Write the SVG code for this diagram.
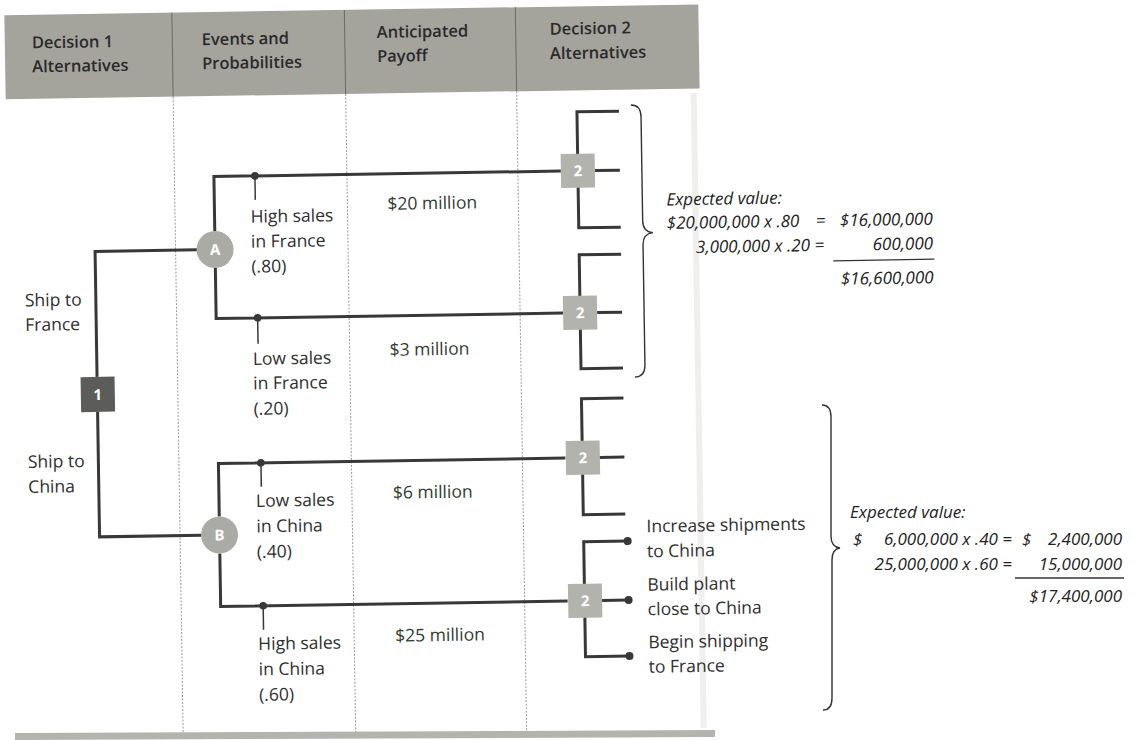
<svg xmlns="http://www.w3.org/2000/svg" width="1134" height="740" viewBox="0 0 1134 740">
  <style>
    .lbl { font-family: "Open Sans", "Noto Sans", sans-serif; font-size: 17.5px; fill: #2e2e2e; }
    .hdr { font-family: "Open Sans", "Noto Sans", sans-serif; font-size: 16.5px; font-weight: 600; fill: #2a2a2a; }
    .val { font-family: "Open Sans", "Noto Sans", sans-serif; font-size: 17.5px; fill: #2f3a2f; }
    .ev { font-family: "Open Sans", "Noto Sans", sans-serif; font-size: 17px; font-style: italic; fill: #222; }
    .nodeTxt { font-family: "Open Sans", "Noto Sans", sans-serif; font-size: 15px; font-weight: 700; fill: #ffffff; text-anchor: middle; }
    .tree { fill: none; stroke: #383838; stroke-width: 3; }
    .tick { fill: none; stroke: #383838; stroke-width: 1.5; }
    .dot { fill: #383838; }
    .div { stroke: #9a9a9a; stroke-width: 1; stroke-dasharray: 2 1.5; }
    .hdiv { stroke: #6a6a66; stroke-width: 1; }
    .brace { fill: none; stroke: #333; stroke-width: 1.4; }
    .rule { stroke: #333; stroke-width: 1.3; }
    .d2 { fill: #b3b3ae; }
  </style>

  <rect x="0" y="0" width="1134" height="740" fill="#ffffff"/>

  <g id="page" transform="rotate(-0.9 567 370)">
    <!-- header band -->
    <g id="header">
      <rect x="10" y="6.5" width="694" height="84" fill="#a4a49c"/>
      <line class="hdiv" x1="177.5" y1="6.5" x2="177.5" y2="90.5"/>
      <line class="hdiv" x1="350" y1="6.5" x2="350" y2="90.5"/>
      <line class="hdiv" x1="521" y1="6.5" x2="521" y2="90.5"/>
      <text class="hdr" x="37" y="40">Decision 1</text>
      <text class="hdr" x="37" y="64">Alternatives</text>
      <text class="hdr" x="207" y="39.5">Events and</text>
      <text class="hdr" x="207" y="63.5">Probabilities</text>
      <text class="hdr" x="382" y="35">Anticipated</text>
      <text class="hdr" x="382" y="59">Payoff</text>
      <text class="hdr" x="555" y="34.5">Decision 2</text>
      <text class="hdr" x="555" y="59">Alternatives</text>
    </g>

    <!-- table grid -->
    <g id="grid">
      <line class="div" x1="177.5" y1="90.5" x2="177.5" y2="732"/>
      <line class="div" x1="350" y1="90.5" x2="350" y2="732"/>
      <line class="div" x1="521" y1="90.5" x2="521" y2="732"/>
      <rect x="695" y="95" width="6" height="635" fill="#dcdcd6" opacity="0.45"/>
    </g>

    <!-- connectors -->
    <g id="connectors">
      <path class="tree" d="M97,369.5 V244 H199"/>
      <path class="tree" d="M97,404.5 V529.5 H199"/>
      <path class="tree" d="M217,226 V171 H564"/>
      <path class="tree" d="M217,262 V313 H564"/>
      <path class="tree" d="M217,511 V458 H564"/>
      <path class="tree" d="M217,548 V601 H564"/>
      <!-- event dots and ticks -->
      <circle class="dot" cx="258" cy="171" r="3.8"/>
      <line class="tick" x1="258" y1="171" x2="258" y2="195"/>
      <circle class="dot" cx="258.5" cy="313" r="3.8"/>
      <line class="tick" x1="258.5" y1="313" x2="258.5" y2="339"/>
      <circle class="dot" cx="259.5" cy="458" r="3.8"/>
      <line class="tick" x1="259.5" y1="458" x2="259.5" y2="482"/>
      <circle class="dot" cx="259.5" cy="601" r="3.8"/>
      <line class="tick" x1="259.5" y1="601" x2="259.5" y2="625"/>
      <!-- decision 2 brackets -->
      <path class="tree" d="M623,112 H581 V228 H623 M598,171 H623"/>
      <path class="tree" d="M623,255 H581 V369 H623 M598,313 H623"/>
      <path class="tree" d="M623,399 H581 V515 H623 M598,458 H623"/>
      <path class="tree" d="M625,542 H581 V657 H625 M598,601 H625"/>
      <circle class="dot" cx="625" cy="542" r="4"/>
      <circle class="dot" cx="625" cy="601" r="4"/>
      <circle class="dot" cx="625" cy="657" r="4"/>
    </g>

    <g id="node1">
      <rect x="80.5" y="369.5" width="34" height="35" fill="#5c5c5a"/>
      <text class="nodeTxt" x="97.5" y="392.5">1</text>
    </g>
    <g id="nodeA">
      <circle cx="217" cy="244" r="18.5" fill="#ababa6"/>
      <text class="nodeTxt" x="217" y="249.5">A</text>
    </g>
    <g id="nodeB">
      <circle cx="217" cy="529.5" r="18.5" fill="#ababa6"/>
      <text class="nodeTxt" x="217" y="535">B</text>
    </g>
    <g id="node2a">
      <rect class="d2" x="564" y="154" width="34" height="34"/>
      <text class="nodeTxt" x="581" y="176.5">2</text>
    </g>
    <g id="node2b">
      <rect class="d2" x="564" y="296" width="34" height="34"/>
      <text class="nodeTxt" x="581" y="318.5">2</text>
    </g>
    <g id="node2c">
      <rect class="d2" x="564.5" y="441" width="34" height="34"/>
      <text class="nodeTxt" x="581.5" y="463.5">2</text>
    </g>
    <g id="node2d">
      <rect class="d2" x="564.5" y="584" width="34" height="34"/>
      <text class="nodeTxt" x="581.5" y="606.5">2</text>
    </g>

    <!-- decision 1 labels -->
    <g id="labels-d1">
      <text class="lbl" x="26" y="298">Ship to</text>
      <text class="lbl" x="26" y="322.5">France</text>
      <text class="lbl" x="26.5" y="459.5">Ship to</text>
      <text class="lbl" x="26.5" y="484.5">China</text>
    </g>

    <!-- event labels -->
    <g id="labels-events">
      <text class="lbl" x="253" y="217.7">High sales</text>
      <text class="lbl" x="253" y="242.7">in France</text>
      <text class="lbl" x="253" y="267.7">(.80)</text>
      <text class="lbl" x="253" y="360">Low sales</text>
      <text class="lbl" x="253" y="384.5">in France</text>
      <text class="lbl" x="253" y="410">(.20)</text>
      <text class="lbl" x="254" y="502">Low sales</text>
      <text class="lbl" x="254" y="527.5">in China</text>
      <text class="lbl" x="254" y="553">(.40)</text>
      <text class="lbl" x="254" y="645">High sales</text>
      <text class="lbl" x="254" y="670.5">in China</text>
      <text class="lbl" x="254" y="696">(.60)</text>
    </g>

    <!-- payoffs -->
    <g id="payoffs">
      <text class="val" x="390" y="207">$20 million</text>
      <text class="val" x="390" y="353">$3 million</text>
      <text class="val" x="391" y="496">$6 million</text>
      <text class="val" x="391" y="639">$25 million</text>
    </g>

    <!-- decision 2 alternatives -->
    <g id="labels-d2">
      <text class="lbl" x="644" y="533.5">Increase shipments</text>
      <text class="lbl" x="644" y="558.5">to China</text>
      <text class="lbl" x="644" y="592">Build plant</text>
      <text class="lbl" x="644" y="616.5">close to China</text>
      <text class="lbl" x="644" y="649.5">Begin shipping</text>
      <text class="lbl" x="644" y="674">to France</text>
    </g>

    <!-- expected value France -->
    <g id="ev-france">
      <path class="brace" d="M635,106 Q645,106 645,118 L645,222 Q645,233 655,234 Q645,235 645,246 L645,366 Q645,378 635,378"/>
      <text class="ev" x="669" y="207">Expected value:</text>
      <text class="ev" x="669" y="230.5">$20,000,000 x .80</text>
      <text class="ev" x="818" y="230.5">=</text>
      <text class="ev" x="935" y="230.5" text-anchor="end">$16,000,000</text>
      <text class="ev" x="826" y="255" text-anchor="end">3,000,000 x .20 =</text>
      <text class="ev" x="935" y="255" text-anchor="end">600,000</text>
      <line class="rule" x1="835" y1="265" x2="936" y2="265"/>
      <text class="ev" x="935" y="289" text-anchor="end">$16,600,000</text>
    </g>
  </g>

  <!-- bottom edge of table -->
  <polygon points="15,733 715,730 715,737 15,740" fill="#b4b4ae"/>

  <!-- expected value China -->
  <g id="ev-china">
    <path class="brace" d="M822,405 Q831,405 831,417 L831,536 Q831,547 840,548 Q832,549 832,560 L832,698 Q832,710 823,710"/>
    <text class="ev" x="850" y="518">Expected value:</text>
    <text class="ev" x="853" y="545">$</text>
    <text class="ev" x="1012" y="545" text-anchor="end">6,000,000 x .40 =</text>
    <text class="ev" x="1022" y="545">$</text>
    <text class="ev" x="1122" y="545" text-anchor="end">2,400,000</text>
    <text class="ev" x="1012" y="570" text-anchor="end">25,000,000 x .60 =</text>
    <text class="ev" x="1122" y="570" text-anchor="end">15,000,000</text>
    <line class="rule" x1="1015" y1="578" x2="1124" y2="578"/>
    <text class="ev" x="1122" y="602" text-anchor="end">$17,400,000</text>
  </g>
</svg>
